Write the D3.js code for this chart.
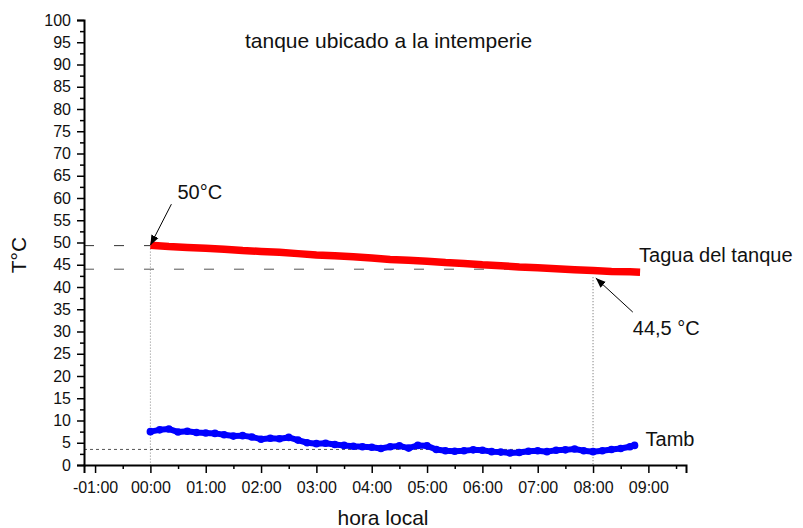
<!DOCTYPE html>
<html>
<head>
<meta charset="utf-8">
<script src="https://cdn.jsdelivr.net/npm/d3@7"></script>
<style>
  body { margin: 0; background: #fff; }
  svg text { font-family: "Liberation Sans", Arial, sans-serif; fill: #111; }
  .axis path, .axis line { stroke: #000; }
</style>
</head>
<body>
<div class="chart"></div>
<script>
// datos (hora en horas desde 00:00, temperatura en °C)
const taguaHours = [0, 0.333, 0.667, 1, 1.333, 1.667, 2, 2.333, 2.667, 3, 3.333, 3.667, 4, 4.333,
    4.667, 5, 5.333, 5.667, 6, 6.333, 6.667, 7, 7.333, 7.667, 8, 8.333, 8.667, 8.85]
const taguaTemp = [49.4, 49.1, 48.9, 48.7, 48.5, 48.2, 48.0, 47.8, 47.5, 47.2, 47.0, 46.8, 46.5, 46.2,
    46.0, 45.8, 45.5, 45.3, 45.0, 44.8, 44.5, 44.3, 44.1, 43.9, 43.7, 43.5, 43.4, 43.3]

const tambHours = [0, 0.167, 0.333, 0.5, 0.667, 0.833, 1, 1.167, 1.333, 1.5, 1.667, 1.833,
    2, 2.167, 2.333, 2.5, 2.667, 2.833, 3, 3.167, 3.333, 3.5, 3.667, 3.833,
    4, 4.167, 4.333, 4.5, 4.667, 4.833, 5, 5.167, 5.333, 5.5, 5.667, 5.833,
    6, 6.167, 6.333, 6.5, 6.667, 6.833, 7, 7.167, 7.333, 7.5, 7.667, 7.833,
    8, 8.167, 8.333, 8.5, 8.667, 8.75]
const tambTemp = [7.5, 7.9, 8.1, 7.4, 7.6, 7.3, 7.2, 7.1, 6.8, 6.5, 6.6, 6.3,
    5.8, 6.0, 5.9, 6.2, 5.6, 5.0, 4.8, 4.9, 4.6, 4.4, 4.2, 4.1,
    4.0, 3.7, 4.1, 4.3, 3.8, 4.4, 4.3, 3.5, 3.2, 3.1, 3.2, 3.4,
    3.3, 3.0, 2.9, 2.7, 2.8, 3.1, 3.2, 3.0, 3.3, 3.4, 3.6, 3.2,
    3.0, 3.2, 3.5, 3.7, 4.1, 4.4]

const xTicks = [-1, 0, 1, 2, 3, 4, 5, 6, 7, 8, 9]
const xMinorTicks = [-0.5, 0.5, 1.5, 2.5, 3.5, 4.5, 5.5, 6.5, 7.5, 8.5, 9.5]
const yTicks = d3.range(0, 101, 5)
const yMinorTicks = d3.range(2.5, 100, 5)

const svg_width = 803
const svg_height = 528

const svg = d3.select('.chart').append('svg')
    .attr('width', svg_width).attr('height', svg_height)

svg.append('rect').attr('width', svg_width).attr('height', svg_height).attr('fill', '#fff')

// escalas
const xScale = d3.scaleLinear().domain([-1.2, 9.68]).range([84, 686])
const yScale = d3.scaleLinear().domain([0, 100]).range([465, 20])

// líneas de referencia (punteadas / trazos)
const refLines = [
    { x1: -1.2, y1: 49.3, x2: 0, y2: 49.3, dash: '10,20', color: '#333', w: 1 },
    { x1: -1.2, y1: 44.0, x2: 8, y2: 44.0, dash: '10,20', color: '#555', w: 1 },
    { x1: 0, y1: 49.3, x2: 0, y2: 0, dash: '1,2', color: '#888', w: 1 },
    { x1: 8, y1: 42.2, x2: 8, y2: 0, dash: '1,2', color: '#666', w: 1 },
    { x1: -1.2, y1: 3.5, x2: 8, y2: 3.5, dash: '3,3', color: '#555', w: 1 }
]
svg.append('g').selectAll('line').data(refLines).enter().append('line')
    .attr('x1', d => xScale(d.x1)).attr('y1', d => yScale(d.y1))
    .attr('x2', d => xScale(d.x2)).attr('y2', d => yScale(d.y2))
    .style('stroke', d => d.color).style('stroke-width', d => d.w)
    .style('stroke-dasharray', d => d.dash)

// series
const lineGen = d3.line().x(d => xScale(d[0])).y(d => yScale(d[1]))
const tagua = taguaHours.map((h, i) => [h, taguaTemp[i]])
const tamb = tambHours.map((h, i) => [h, tambTemp[i]])

svg.append('path').attr('d', lineGen(tagua))
    .style('fill', 'none').style('stroke', '#ff0000').style('stroke-width', 7.5)

svg.append('path').attr('d', lineGen(tamb))
    .style('fill', 'none').style('stroke', '#0000ff').style('stroke-width', 6)
    .style('stroke-linejoin', 'round')
svg.append('g').selectAll('circle').data(tamb).enter().append('circle')
    .attr('cx', d => xScale(d[0])).attr('cy', d => yScale(d[1])).attr('r', 3.8)
    .style('fill', '#0000ff')

// ejes
const fmtHour = d => (d < 0 ? '-' : '') + String(Math.abs(d)).padStart(2, '0') + ':00'

svg.append('g').attr('class', 'axis')
    .attr('transform', `translate(0,${yScale(0)})`)
    .call(d3.axisBottom(xScale).tickValues(xTicks).tickFormat(fmtHour).tickSize(8).tickPadding(9))
svg.append('g').attr('class', 'axis')
    .attr('transform', `translate(0,${yScale(0)})`)
    .call(d3.axisBottom(xScale).tickValues(xMinorTicks).tickFormat('').tickSize(4))
    .select('.domain').remove()

svg.append('g').attr('class', 'axis')
    .attr('transform', `translate(${xScale(-1.2)},0)`)
    .call(d3.axisLeft(yScale).tickValues(yTicks).tickSize(7).tickPadding(6))
svg.append('g').attr('class', 'axis')
    .attr('transform', `translate(${xScale(-1.2)},0)`)
    .call(d3.axisLeft(yScale).tickValues(yMinorTicks).tickFormat('').tickSize(4))
    .select('.domain').remove()

svg.selectAll('.axis path.domain').style('stroke-width', 2)
svg.selectAll('.axis .tick line').style('stroke-width', 1.5)
svg.selectAll('.axis text').style('font-size', '16px').style('font-family', '"Liberation Sans", Arial, sans-serif')
    .style('fill', '#111')

// títulos
svg.append('text').text('tanque ubicado a la intemperie')
    .attr('x', 245).attr('y', 48).style('font-size', '21px')
svg.append('text').text('hora local')
    .attr('x', 383).attr('y', 525).attr('text-anchor', 'middle').style('font-size', '21px')
svg.append('text').text('T°C')
    .attr('transform', 'translate(26,255) rotate(-90)').attr('text-anchor', 'middle').style('font-size', '21px')

// etiquetas de series
const seriesLabels = [
    { name: 'Tagua del tanque', x: 8.85, y: 43.3, dx: -1, dy: -10 },
    { name: 'Tamb', x: 8.75, y: 4.4, dx: 11, dy: 1 }
]
svg.append('g').selectAll('text').data(seriesLabels).enter().append('text')
    .attr('x', d => xScale(d.x) + d.dx).attr('y', d => yScale(d.y) + d.dy)
    .text(d => d.name).style('font-size', '20px')

// anotaciones con flecha
svg.append('defs').append('marker').attr('id', 'arrow')
    .attr('viewBox', '0 0 10 10').attr('refX', 10).attr('refY', 5)
    .attr('markerWidth', 10).attr('markerHeight', 10).attr('markerUnits', 'userSpaceOnUse')
    .attr('orient', 'auto')
    .append('path').attr('d', 'M0,1 L10,5 L0,9 Z').style('fill', '#000')

const notes = [
    { text: '50°C', x: 0, y: 49.4, ax: 21, ay: -41, tx: 27, ty: -46 },
    { text: '44,5 °C', x: 8.05, y: 42.0, ax: 37, ay: 34, tx: 37, ty: 57 }
]
const noteG = svg.append('g')
noteG.selectAll('line').data(notes).enter().append('line')
    .attr('x1', d => xScale(d.x) + d.ax).attr('y1', d => yScale(d.y) + d.ay)
    .attr('x2', d => xScale(d.x)).attr('y2', d => yScale(d.y))
    .style('stroke', '#000').style('stroke-width', 1)
    .attr('marker-end', 'url(#arrow)')
noteG.selectAll('text').data(notes).enter().append('text')
    .attr('x', d => xScale(d.x) + d.tx).attr('y', d => yScale(d.y) + d.ty)
    .text(d => d.text).style('font-size', '20px')
</script>
</body>
</html>
